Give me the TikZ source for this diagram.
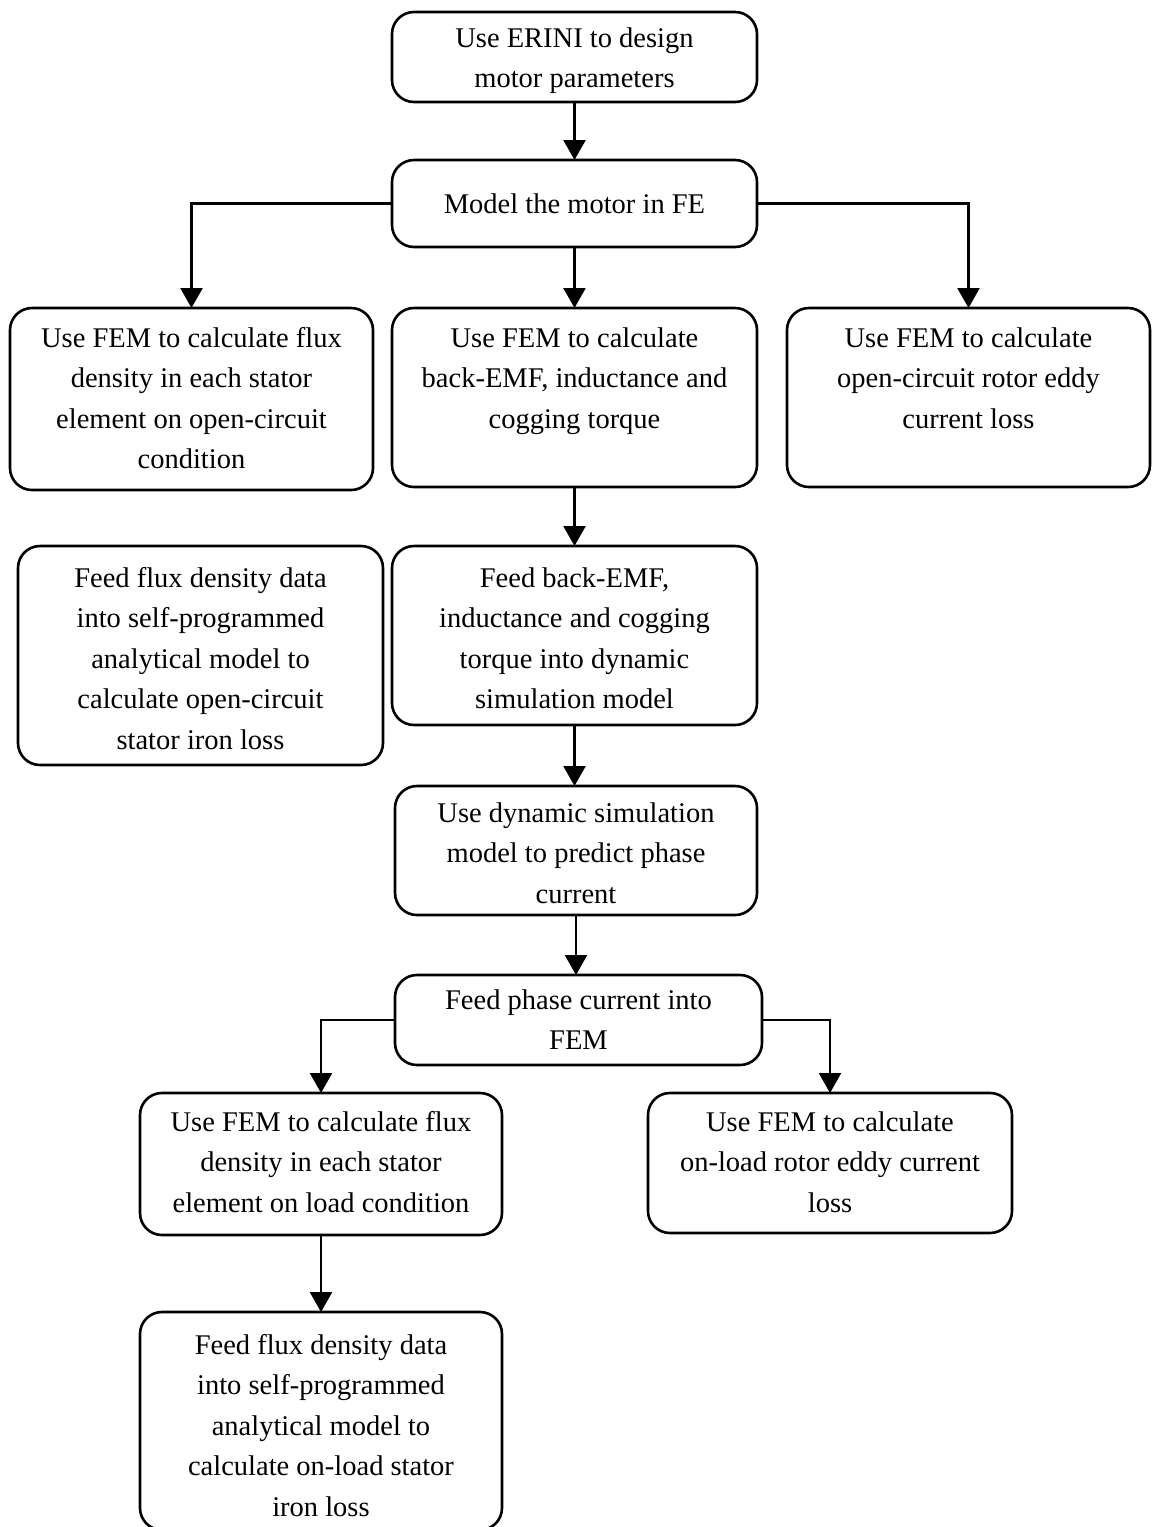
\documentclass[tikz,border=0pt]{standalone}
\usepackage{fontspec}
\setmainfont{Liberation Serif}
\usetikzlibrary{arrows.meta}
\newcommand{\tbx}[4]{\begin{minipage}[c][#2pt][t]{#1pt}\centering\fontsize{28.5pt}{40.5pt}\selectfont\rule{0pt}{#3pt}#4\end{minipage}}
\newcommand{\tbc}[3]{\begin{minipage}[c][#2pt][c]{#1pt}\centering\fontsize{28.5pt}{40.5pt}\selectfont #3\end{minipage}}
\begin{document}
\begin{tikzpicture}[x=1pt,y=-1pt,
  box/.style={draw, line width=2.6pt, rounded corners=22pt, inner sep=0pt, outer sep=0pt},
  arr/.style={line width=2.4pt, -{Triangle[length=20pt,width=22pt]}}]
\useasboundingbox (0,0) rectangle (1157,1527);
\node[box] (b1) at (574.5,57) {\tbx{365}{90}{35}{Use ERINI to design\\motor parameters}};
\node[box] (b2) at (574.5,203.5) {\tbc{365}{87}{Model the motor in FE}};
\node[box] (b3) at (191.5,399) {\tbx{363}{182}{39}{Use FEM to calculate flux\\density in each stator\\element on open-circuit\\condition}};
\node[box] (b4) at (574.5,397.5) {\tbx{365}{179}{39}{Use FEM to calculate\\back-EMF, inductance and\\cogging torque}};
\node[box] (b5) at (968.5,397.5) {\tbx{363}{179}{39}{Use FEM to calculate\\open-circuit rotor eddy\\current loss}};
\node[box] (b6) at (200.5,655.5) {\tbx{365}{219}{41}{Feed flux density data\\into self-programmed\\analytical model to\\calculate open-circuit\\stator iron loss}};
\node[box] (b7) at (574.5,635.5) {\tbx{365}{179}{41}{Feed back-EMF,\\inductance and cogging\\torque into dynamic\\simulation model}};
\node[box] (b8) at (576,850.5) {\tbx{362}{129}{36}{Use dynamic simulation\\model to predict phase\\current}};
\node[box] (b9) at (578.5,1020) {\tbx{367}{90}{34}{Feed phase current into\\FEM}};
\node[box] (b10) at (321,1164) {\tbx{362}{142}{38}{Use FEM to calculate flux\\density in each stator\\element on load condition}};
\node[box] (b11) at (830,1163) {\tbx{364}{140}{38}{Use FEM to calculate\\on-load rotor eddy current\\loss}};
\node[box] (b12) at (321,1421) {\tbx{362}{218}{42}{Feed flux density data\\into self-programmed\\analytical model to\\calculate on-load stator\\iron loss}};
\draw[arr] (b1) -- (b2);
\draw[arr] (b2.west) -| (b3.north);
\draw[arr] (b2) -- (b4);
\draw[arr] (b2.east) -| (b5.north);
\draw[arr] (b4) -- (b7);
\draw[arr] (b7.south) -- (b7.south |- b8.north);
\draw[arr] (b8.south) -- (b8.south |- b9.north);
\draw[arr] (b9.west) -| (b10.north);
\draw[arr] (b9.east) -| (b11.north);
\draw[arr] (b10) -- (b12);
\end{tikzpicture}
\end{document}
